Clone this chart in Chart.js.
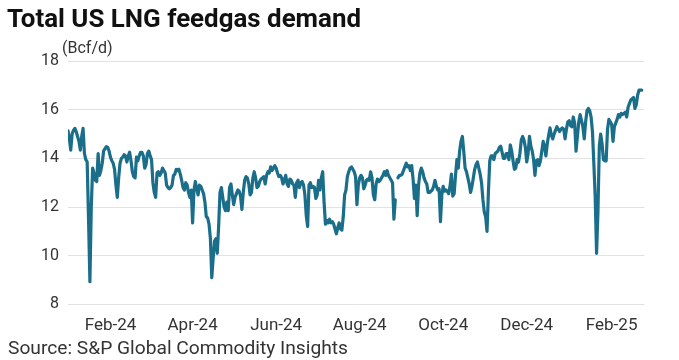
<!DOCTYPE html>
<html><head><meta charset="utf-8">
<script src="https://cdn.jsdelivr.net/npm/chart.js@4.4.1/dist/chart.umd.min.js"></script>
<style>
html,body{margin:0;padding:0;background:#fff;}
#wrap{position:relative;width:679px;height:360px;overflow:hidden;font-family:Roboto,sans-serif;}
#title{position:absolute;left:7px;top:3px;font-weight:700;font-size:25.9px;line-height:30px;color:#111;white-space:nowrap;}
#unit{position:absolute;left:62px;top:38px;font-size:16px;line-height:19px;color:#333;white-space:nowrap;}
#source{position:absolute;left:8px;top:337px;font-size:19.2px;line-height:22px;color:#333;white-space:nowrap;}
canvas{position:absolute;left:0;top:0;}
</style></head><body>
<div id="wrap">
<canvas id="c" width="679" height="360"></canvas>
<div id="title">Total US LNG feedgas demand</div>
<div id="unit">(Bcf/d)</div>
<div id="source">Source: S&amp;P Global Commodity Insights</div>
</div>
<script>
const startDate = '2024-01-01';
const tickLabels = ['Feb-24','Apr-24','Jun-24','Aug-24','Oct-24','Dec-24','Feb-25'];
const tickDates = ['2024-02-01','2024-04-01','2024-06-01','2024-08-01','2024-10-01','2024-12-01','2025-02-01'];
const axisEndDate = '2025-02-25';
const yTicks = [8,10,12,14,16,18];
// daily feedgas demand (Bcf/d), from 2024-01-01
const demand = [
15.13,14.8,14.34,15.0,15.15,15.23,15.1,14.9,14.7,14.34,
14.9,15.23,14.2,13.95,13.86,11.5,8.93,12.0,13.6,13.4,
13.1,13.05,14.2,13.3,13.5,13.8,14.3,14.4,14.48,14.45,
14.3,14.05,13.9,13.8,13.55,12.9,12.4,13.2,13.8,14.0,
14.05,14.15,14.1,13.85,14.1,14.25,13.9,13.45,13.25,13.2,
14.05,13.9,14.1,14.25,14.25,14.1,13.6,13.75,14.2,14.3,
14.1,13.95,13.0,12.6,12.4,13.4,13.45,13.3,13.4,13.6,
13.5,13.4,12.9,12.8,12.75,12.8,12.9,13.3,13.35,13.55,
13.5,13.55,
13.35,13.1,12.8,12.7,13.0,12.9,12.6,12.4,12.7,11.35,
12.7,13.05,12.75,12.5,12.9,12.85,12.7,12.55,12.2,11.6,
11.55,11.3,10.7,9.1,9.9,10.6,10.7,10.1,11.2,12.6,
12.8,12.4,12.0,11.85,12.2,11.85,12.8,12.95,12.5,12.1,
12.4,12.55,12.7,12.65,12.45,11.9,12.6,13.1,13.25,13.2,
12.95,12.5,12.6,13.2,13.45,13.2,12.8,12.85,13.05,13.15,
13.2,13.25,12.95,13.3,13.45,13.4,13.65,13.5,13.6,13.7,
13.6,13.4,13.25,13.3,13.2,12.95,13.1,13.3,12.95,12.85,
13.15,13.1,12.95,12.9,12.4,
13.0,13.1,12.8,13.0,13.05,12.9,12.5,11.65,11.2,12.9,
13.0,12.8,12.85,12.8,12.35,12.5,13.1,12.7,13.2,13.45,
12.2,11.3,11.45,11.35,11.5,11.35,11.4,11.3,11.1,10.9,
11.15,11.35,11.1,11.05,11.6,12.5,12.7,13.25,13.45,13.6,
13.65,13.55,13.45,13.25,12.1,12.9,13.2,13.3,13.2,12.75,
12.9,13.1,13.15,13.1,13.45,13.2,12.5,12.3,12.95,13.15,
13.05,13.1,13.2,13.3,13.45,13.3,13.5,13.3,13.2,13.1,
13.0,11.5,12.3,null,13.2,13.3,13.3,13.35,13.5,13.65,
13.8,13.65,13.7,13.5,13.7,
13.15,12.35,12.9,11.65,12.9,13.4,13.6,13.45,13.2,13.05,
12.95,12.6,12.6,12.65,12.7,12.85,13.1,12.85,12.7,12.75,
11.4,12.5,12.85,12.65,12.7,12.65,12.55,12.85,13.35,12.45,
12.55,13.3,13.95,13.6,14.3,14.7,14.9,14.3,13.6,13.45,
13.2,12.95,12.6,12.85,13.2,13.55,13.75,13.85,13.6,13.35,
13.0,12.3,11.8,11.6,11.0,12.6,13.9,14.1,14.1,13.95,
14.2,14.25,14.3,14.45,14.5,14.25,14.0,14.0,14.2,14.2,
13.95,14.55,14.3,13.9,13.55,13.6,13.95,13.85,14.2,14.75,
14.9,14.75,14.45,13.85,
14.2,14.9,14.5,14.3,13.95,13.3,13.9,13.95,13.7,13.9,
14.3,14.7,14.5,14.1,14.6,14.95,15.25,14.95,14.8,15.0,
15.15,15.3,15.2,15.1,15.2,15.25,15.2,14.8,15.2,15.5,
15.55,15.35,15.3,15.7,15.45,14.3,14.9,15.5,15.8,15.55,
15.3,14.8,15.5,15.95,16.05,15.95,15.7,15.1,13.8,12.4,
10.1,11.8,14.5,15.0,14.6,13.95,13.9,13.9,15.2,15.6,
15.5,15.4,14.7,15.3,15.45,15.6,15.8,15.7,15.85,15.8,
15.85,15.9,15.7,16.1,16.25,16.4,16.45,16.5,16.05,16.2,
16.6,16.8,16.8,16.8
];

const DAY = 86400000;
const dayIndex = s => Math.round((Date.parse(s) - Date.parse(startDate)) / DAY);
const tickDays = tickDates.map(dayIndex);
const points = demand.map((v, i) => ({x: i, y: v}));

new Chart(document.getElementById('c'), {
  type: 'line',
  data: { datasets: [{
    data: points,
    borderColor: '#1b6e8a',
    borderWidth: 3.2,
    pointRadius: 0,
    tension: 0,
    spanGaps: false,
    borderJoinStyle: 'round',
    borderCapStyle: 'round'
  }]},
  options: {
    responsive: false,
    devicePixelRatio: 1,
    animation: false,
    layout: { padding: { left: 0, top: 61, right: 34.5, bottom: 25.6 } },
    plugins: { legend: { display: false }, tooltip: { enabled: false }, title: { display: false } },
    scales: {
      x: {
        type: 'linear',
        min: 0,
        max: dayIndex(axisEndDate),
        grid: { display: false },
        border: { display: false },
        afterBuildTicks: s => { s.ticks = tickDays.map(v => ({ value: v })); },
        afterFit: s => { s.height = 30; },
        ticks: {
          autoSkip: false, maxRotation: 0, minRotation: 0, padding: 3,
          color: '#333', font: { family: 'Roboto', size: 17 },
          callback: (v) => { const k = tickDays.indexOf(v); return k >= 0 ? tickLabels[k] : ''; }
        }
      },
      y: {
        min: 8, max: 18,
        afterBuildTicks: s => { s.ticks = yTicks.map(v => ({ value: v })); },
        afterFit: s => { s.width = 68; },
        grid: { color: '#e2e2e2', lineWidth: 1, drawTicks: false },
        border: { display: false },
        ticks: { padding: 9, color: '#333', font: { family: 'Roboto', size: 16 } }
      }
    }
  }
});
</script>
</body></html>
